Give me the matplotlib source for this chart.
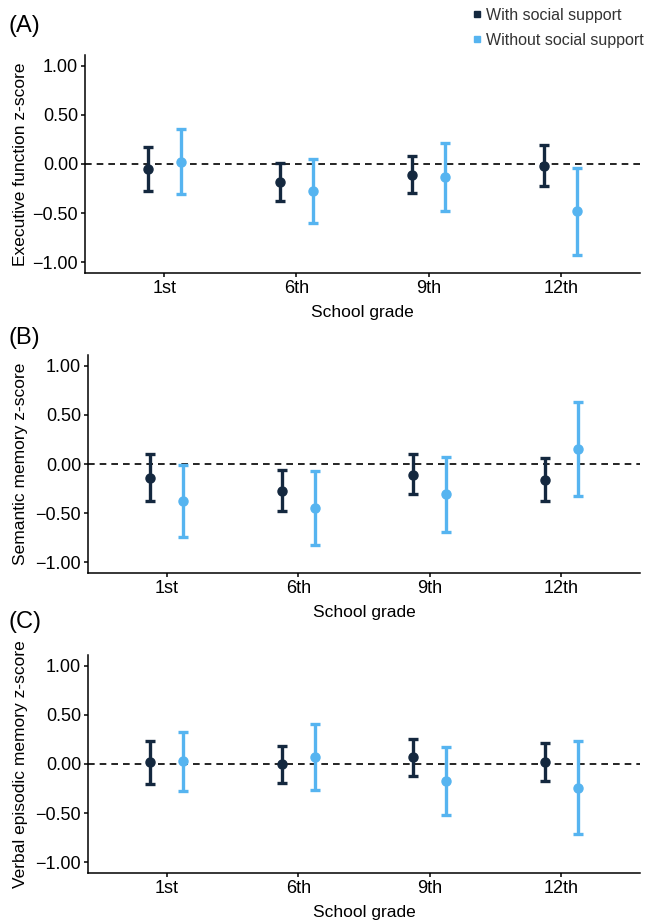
import matplotlib
matplotlib.use("Agg")
import matplotlib.pyplot as plt
from matplotlib.lines import Line2D
import numpy as np

plt.rcParams['font.family'] = ['Liberation Sans', 'DejaVu Sans']

grades = ["1st", "6th", "9th", "12th"]
groups = ["With social support", "Without social support"]
colors = ["#14283F", "#56B4F0"]

# Panel A: Executive function
ef_with = [-0.05, -0.18, -0.11, -0.02]
ef_with_lo = [-0.27, -0.38, -0.30, -0.22]
ef_with_hi = [0.17, 0.01, 0.08, 0.19]
ef_without = [0.02, -0.27, -0.13, -0.48]
ef_without_lo = [-0.31, -0.60, -0.48, -0.93]
ef_without_hi = [0.36, 0.05, 0.21, -0.04]

# Panel B: Semantic memory
sm_with = [-0.14, -0.27, -0.11, -0.16]
sm_with_lo = [-0.38, -0.48, -0.31, -0.38]
sm_with_hi = [0.10, -0.06, 0.10, 0.06]
sm_without = [-0.38, -0.45, -0.31, 0.15]
sm_without_lo = [-0.74, -0.82, -0.69, -0.33]
sm_without_hi = [-0.01, -0.07, 0.07, 0.63]

# Panel C: Verbal episodic memory
vm_with = [0.02, 0.00, 0.07, 0.02]
vm_with_lo = [-0.20, -0.19, -0.12, -0.17]
vm_with_hi = [0.23, 0.18, 0.25, 0.21]
vm_without = [0.03, 0.07, -0.17, -0.24]
vm_without_lo = [-0.28, -0.26, -0.52, -0.71]
vm_without_hi = [0.33, 0.41, 0.17, 0.23]

yticks = [1.00, 0.50, 0.00, -0.50, -1.00]
ytick_labels = ["1.00", "0.50", "0.00", "\u22120.50", "\u22121.00"]

panels = [
    ("(A)", "Executive function z-score",
     (ef_with, ef_with_lo, ef_with_hi), (ef_without, ef_without_lo, ef_without_hi)),
    ("(B)", "Semantic memory z-score",
     (sm_with, sm_with_lo, sm_with_hi), (sm_without, sm_without_lo, sm_without_hi)),
    ("(C)", "Verbal episodic memory z-score",
     (vm_with, vm_with_lo, vm_with_hi), (vm_without, vm_without_lo, vm_without_hi)),
]

W, H = 646, 921
fig = plt.figure(figsize=(W / 100, H / 100), dpi=100)

# axes positions in pixels: (left, top, right, bottom)
pix = [(85, 55, 640, 273), (88, 355, 640, 573), (88, 655, 640, 873)]
label_y = [26, 338, 622]

x = np.arange(1, len(grades) + 1)
dodge = 0.125

for (lab, ylab, s1, s2), (l, t, r, b), ly in zip(panels, pix, label_y):
    ax = fig.add_axes([l / W, 1 - b / H, (r - l) / W, (b - t) / H])
    ax.axhline(0, color="black", linestyle=(0, (4, 3)), linewidth=1.2, zorder=1)
    for k, (s, c) in enumerate(zip([s1, s2], colors)):
        m, lo, hi = (np.array(v) for v in s)
        xs = x + (-dodge if k == 0 else dodge)
        ax.errorbar(xs, m, yerr=[m - lo, hi - m], fmt="o", color=c, ecolor=c,
                    elinewidth=2.4, capsize=3.5, capthick=2.4, markersize=6.5, zorder=3)
    ax.set_xlim(0.4, 4.6)
    ax.set_ylim(-1.11, 1.11)
    ax.set_xticks(x)
    ax.set_xticklabels(grades, fontsize=13)
    ax.set_yticks(yticks)
    ax.set_yticklabels(ytick_labels, fontsize=13)
    for sp in ["top", "right"]:
        ax.spines[sp].set_visible(False)
    for sp in ["left", "bottom"]:
        ax.spines[sp].set_linewidth(1.1)
    ax.tick_params(axis="both", length=3, width=1.1, color="black", labelcolor="black", pad=2)
    ax.set_xlabel("School grade", fontsize=12.5, labelpad=6)
    ax.set_ylabel(ylab, fontsize=12.5)
    ax.yaxis.set_label_coords((28 - l) / (r - l), 0.5)
    fig.text(8 / W, 1 - ly / H, lab, fontsize=17, ha="left", va="center")

handles = [Line2D([], [], marker="s", linestyle="none", color=c, markersize=5) for c in colors]
fig.legend(handles, groups, loc="upper right", bbox_to_anchor=(644 / W, 1 - 8 / H),
           frameon=False, fontsize=11.5, handletextpad=0.1, handlelength=1.0,
           labelspacing=0.6, borderaxespad=0, borderpad=0, labelcolor="#333333")

fig.savefig("out.png", dpi=100)
